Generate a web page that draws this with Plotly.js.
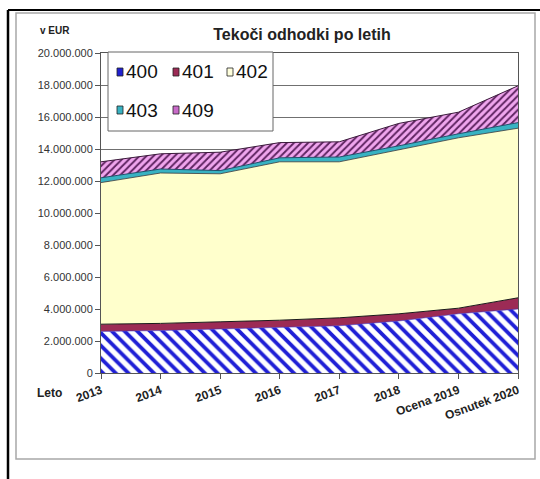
<!DOCTYPE html>
<html>
<head>
<meta charset="utf-8">
<script src="https://cdn.plot.ly/plotly-3.0.1.min.js"></script>
<style>
    body { margin: 0; background: #ffffff; }
    #graphique { width: 540px; height: 479px; }
</style>
</head>
<body>
<div id="graphique"></div>
<script>
// Tekoči odhodki po letih, v EUR (vrednosti odčitane s slike)
let leta = ["2013", "2014", "2015", "2016", "2017", "2018", "Ocena 2019", "Osnutek 2020"]

let konto_400 = [2600000, 2650000, 2750000, 2850000, 2950000, 3250000, 3700000, 4000000]
let konto_401 = [450000, 450000, 450000, 450000, 500000, 450000, 350000, 700000]
let konto_402 = [8850000, 9400000, 9250000, 9900000, 9750000, 10250000, 10650000, 10600000]
let konto_403 = [300000, 250000, 200000, 250000, 300000, 250000, 250000, 350000]
let konto_409 = [1000000, 950000, 1150000, 950000, 950000, 1400000, 1350000, 2300000]

let imena = ["400", "401", "402", "403", "409"]
let y_oznake = [0, 2000000, 4000000, 6000000, 8000000, 10000000, 12000000, 14000000, 16000000, 18000000, 20000000]

// zunanje mere risalne ploskve v pikslih
let levo = 101, desno = 518, zgoraj = 53, spodaj = 373

/**
 * Pretvori piksle v koordinate "paper"
 */
function px_x(px) {
    return (px - levo) / (desno - levo)
}
function px_y(py) {
    return (spodaj - py) / (spodaj - zgoraj)
}

function graf_odhodki() {
    let obroba = {color: '#1a1a1a', width: 1}

    let podatki = [
        {
            x: leta, y: konto_400, name: imena[0], type: "scatter", mode: "lines", stackgroup: "one",
            line: {color: '#2b2bd0', width: 0.5},
            fillcolor: 'white',
            fillpattern: {shape: '\\', fgcolor: '#1f1fd6', bgcolor: 'white', size: 9, solidity: 0.42}
        },
        {
            x: leta, y: konto_401, name: imena[1], type: "scatter", mode: "lines", stackgroup: "one",
            line: obroba, fillcolor: '#9c2b55'
        },
        {
            x: leta, y: konto_402, name: imena[2], type: "scatter", mode: "lines", stackgroup: "one",
            line: {color: '#3a3a3a', width: 0.8}, fillcolor: '#ffffcc'
        },
        {
            x: leta, y: konto_403, name: imena[3], type: "scatter", mode: "lines", stackgroup: "one",
            line: {color: '#1f4f6a', width: 1}, fillcolor: '#38b2c2'
        },
        {
            x: leta, y: konto_409, name: imena[4], type: "scatter", mode: "lines", stackgroup: "one",
            line: {color: '#3a1a3a', width: 1},
            fillcolor: '#e38be3',
            fillpattern: {shape: '/', fgcolor: '#5e2360', bgcolor: '#f0a6ee', size: 5, solidity: 0.38}
        }
    ]

    // legenda narisana ročno (majhni kvadratki kot v Excelu)
    let legenda_mesta = [[117, 72], [173, 72], [227, 72], [117, 110], [173, 110]]
    let legenda_barve = ['#2020d0', '#9c2b55', '#ffffdd', '#38b2c2', '#c86ac8']

    let oblike = [
        // črn okvir slike
        {type: 'line', xref: 'paper', yref: 'paper', x0: px_x(8), x1: px_x(8), y0: px_y(10), y1: px_y(479), line: {color: '#000', width: 2.5}},
        {type: 'line', xref: 'paper', yref: 'paper', x0: px_x(8), x1: px_x(540), y0: px_y(10), y1: px_y(10), line: {color: '#000', width: 2}},
        // siv okvir grafa
        {type: 'rect', xref: 'paper', yref: 'paper', x0: px_x(16), x1: px_x(535), y0: px_y(13), y1: px_y(459), line: {color: '#a8a8a8', width: 1.5}},
        // okvir legende
        {type: 'rect', xref: 'paper', yref: 'paper', x0: px_x(108), x1: px_x(273), y0: px_y(52), y1: px_y(131), line: {color: '#666', width: 1}, fillcolor: 'white'}
    ]
    let opombe = [
        {text: "<b>v EUR</b>", xref: 'paper', yref: 'paper', x: px_x(38), y: px_y(30), xanchor: 'left', yanchor: 'middle', showarrow: false, font: {size: 10, color: '#222'}},
        {text: "<b>Leto</b>", xref: 'paper', yref: 'paper', x: px_x(35), y: px_y(393), xanchor: 'left', yanchor: 'middle', showarrow: false, font: {size: 12, color: '#222'}}
    ]

    for (let i = 0; i < imena.length; i = i + 1) {
        let px = legenda_mesta[i][0]
        let py = legenda_mesta[i][1]
        oblike.push({
            type: 'rect', xref: 'paper', yref: 'paper',
            x0: px_x(px), x1: px_x(px + 6), y0: px_y(py - 4), y1: px_y(py + 4),
            line: {color: '#222', width: 0.8}, fillcolor: legenda_barve[i]
        })
        opombe.push({
            text: imena[i], xref: 'paper', yref: 'paper', x: px_x(px + 7), y: px_y(py),
            xanchor: 'left', yanchor: 'middle', showarrow: false, font: {size: 19, color: '#111'}
        })
    }

    let izgled = {
        width: 540,
        height: 479,
        margin: {l: levo, r: 540 - desno, t: zgoraj, b: 479 - spodaj},
        paper_bgcolor: 'white',
        plot_bgcolor: 'white',
        showlegend: false,
        separators: ',.',
        font: {family: 'Liberation Sans, Arial, sans-serif', color: '#222'},
        title: {
            text: "<b>Tekoči odhodki po letih</b>",
            font: {size: 16, color: '#222'},
            xref: 'paper',
            x: px_x(302),
            xanchor: 'center',
            yref: 'container',
            y: 1 - 34 / 479,
            yanchor: 'middle'
        },
        xaxis: {
            type: 'category',
            range: [0, leta.length - 1],
            showline: true,
            linecolor: '#555',
            mirror: true,
            ticks: 'outside',
            ticklen: 5,
            tickcolor: '#555',
            tickangle: -20,
            tickfont: {size: 12, weight: 'bold', color: '#222'},
            showgrid: false
        },
        yaxis: {
            range: [0, 20000000],
            tickvals: y_oznake,
            tickformat: ',d',
            showline: true,
            linecolor: '#555',
            mirror: true,
            ticks: 'outside',
            ticklen: 5,
            tickcolor: '#555',
            tickfont: {size: 11, color: '#333'},
            gridcolor: '#707070',
            gridwidth: 1,
            zeroline: false
        },
        shapes: oblike,
        annotations: opombe
    }

    Plotly.newPlot("graphique", podatki, izgled, {staticPlot: true})
}

graf_odhodki()
</script>
</body>
</html>
